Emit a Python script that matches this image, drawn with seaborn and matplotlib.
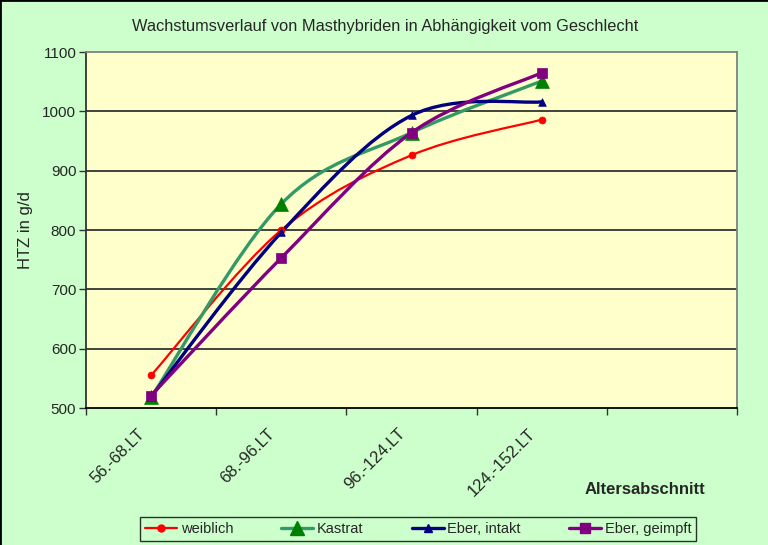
import matplotlib
matplotlib.use("Agg")
import matplotlib.pyplot as plt
from matplotlib.path import Path
from matplotlib.patches import PathPatch
from matplotlib.lines import Line2D
from matplotlib.transforms import ScaledTranslation
import seaborn as sns
import pandas as pd
import numpy as np

categories = ["56.-68.LT", "68.-96.LT", "96.-124.LT", "124.-152.LT"]
weiblich = [555, 800, 926, 986]
kastrat = [518, 844, 964, 1051]
eber_intakt = [519, 796, 993, 1016]
eber_geimpft = [521, 753, 964, 1065]
y_ticks = [500, 600, 700, 800, 900, 1000, 1100]

series = [
    ("weiblich", weiblich, "#FF0000", "#FF0000", "o", 5, 1.6),
    ("Kastrat", kastrat, "#339966", "#008000", "^", 10, 2.4),
    ("Eber, intakt", eber_intakt, "#000080", "#000080", "^", 5.5, 2.4),
    ("Eber, geimpft", eber_geimpft, "#800080", "#800080", "s", 6.5, 2.4),
]

sns.set_style("white")
plt.rcParams["font.family"] = ["Liberation Sans", "DejaVu Sans"]

fig = plt.figure(figsize=(7.68, 5.45), dpi=100, facecolor="#CCFFCC")
ax = fig.add_axes([86 / 768, 1 - 408 / 545, (737 - 86) / 768, (408 - 52) / 545])
ax.set_facecolor("#FFFFCC")


def smooth_path(xs, ys):
    pts = list(zip(xs, ys))
    verts = [pts[0]]
    codes = [Path.MOVETO]
    n = len(pts)
    for i in range(n - 1):
        p0 = pts[i - 1] if i > 0 else pts[i]
        p1 = pts[i]
        p2 = pts[i + 1]
        p3 = pts[i + 2] if i + 2 < n else pts[i + 1]
        c1 = (p1[0] + (p2[0] - p0[0]) / 6, p1[1] + (p2[1] - p0[1]) / 6)
        c2 = (p2[0] - (p3[0] - p1[0]) / 6, p2[1] - (p3[1] - p1[1]) / 6)
        verts += [c1, c2, p2]
        codes += [Path.CURVE4] * 3
    return Path(verts, codes)


rows = []
for name, vals, lc, mc, mk, ms, lw in series:
    for c, v in zip(categories, vals):
        rows.append({"cat": c, "val": v, "series": name})
df = pd.DataFrame(rows)
xpos = {c: i for i, c in enumerate(categories)}
df["x"] = df["cat"].map(xpos)

handles = []
for name, vals, lc, mc, mk, ms, lw in series:
    sub = df[df["series"] == name]
    patch = PathPatch(smooth_path(sub["x"].tolist(), sub["val"].tolist()),
                      facecolor="none", edgecolor=lc, lw=lw, zorder=3,
                      capstyle="round", joinstyle="round")
    ax.add_patch(patch)
    sns.scatterplot(data=sub, x="x", y="val", marker=mk, s=(ms * 1.0) ** 2,
                    color=mc, edgecolor=mc, linewidth=0.5, ax=ax, zorder=4,
                    legend=False)
    handles.append(Line2D([0], [0], color=lc, lw=lw, marker=mk,
                          markersize=ms, markerfacecolor=mc, markeredgecolor=mc,
                          label=name))

ax.set_xlim(-0.5, 4.5)
ax.set_ylim(500, 1100)
ax.set_yticks(y_ticks)
ax.set_yticklabels([str(t) for t in y_ticks], fontsize=11)
ax.set_xticks(np.arange(-0.5, 5.0, 1.0))
ax.set_xticklabels([])
offset = ScaledTranslation(-14 / 100, -18 / 100, fig.dpi_scale_trans)
for i, c in enumerate(categories):
    ax.text(i, 0, c, transform=ax.get_xaxis_transform() + offset,
            rotation=45, ha="right", va="top", rotation_mode="anchor",
            fontsize=12, clip_on=False)
ax.tick_params(axis="x", which="major", direction="out", length=5, width=1,
               color="#333333", bottom=True)
ax.tick_params(axis="y", direction="out", length=5, width=1, color="#333333",
               left=True, pad=2)
ax.grid(False)
for y in y_ticks[1:-1]:
    ax.axhline(y, color="#333333", lw=1.3, zorder=1)
ax.set_xlabel("")
ax.set_ylabel("HTZ in g/d", fontsize=12, labelpad=7)

for side in ["top", "right"]:
    ax.spines[side].set_color("#808080")
    ax.spines[side].set_linewidth(1.3)
ax.spines["left"].set_color("#333333")
ax.spines["left"].set_linewidth(1.3)
ax.spines["bottom"].set_color("#000000")
ax.spines["bottom"].set_linewidth(1.3)

fig.text(385.5 / 768, 1 - 26 / 545, "Wachstumsverlauf von Masthybriden in Abhängigkeit vom Geschlecht",
         ha="center", va="center", fontsize=11.8)
fig.text(645 / 768, 1 - 490 / 545, "Altersabschnitt", ha="center", va="center",
         fontsize=12, fontweight="bold")

leg = fig.legend(handles=handles, loc="center", ncol=4,
                 bbox_to_anchor=(418 / 768, 1 - 529 / 545), frameon=True,
                 fancybox=False, edgecolor="black", facecolor="#CCFFCC",
                 fontsize=10.5, handlelength=2.2, columnspacing=3.3,
                 borderpad=0.35, handletextpad=0.25)
leg.get_frame().set_linewidth(1.0)

fig.add_artist(Line2D([0, 0], [0, 1], transform=fig.transFigure, color="black", lw=2))
fig.add_artist(Line2D([0, 1], [1, 1], transform=fig.transFigure, color="black", lw=2))

fig.savefig("out.png", dpi=100, facecolor=fig.get_facecolor())
